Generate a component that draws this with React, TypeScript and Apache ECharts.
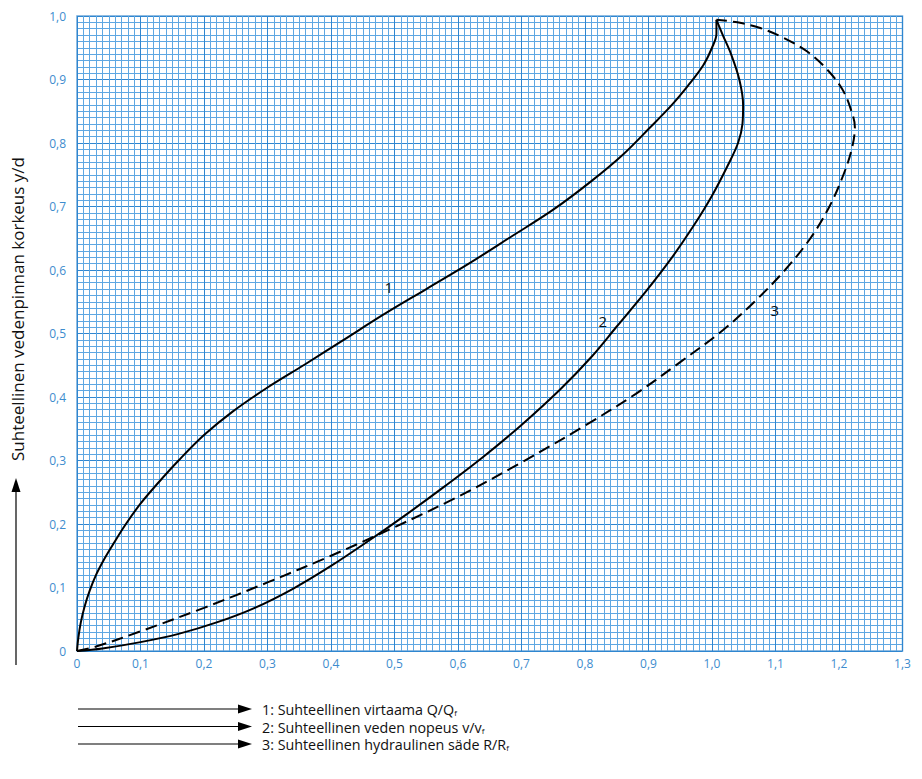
import React, { useEffect, useRef } from "react";
import * as echarts from "echarts";

// Tick labels
const xTicks = ["0", "0,1", "0,2", "0,3", "0,4", "0,5", "0,6", "0,7", "0,8", "0,9", "1,0", "1,1", "1,2", "1,3"];
const yTicks = ["0", "0,1", "0,2", "0,3", "0,4", "0,5", "0,6", "0,7", "0,8", "0,9", "1,0"];

// Curve 1: relative discharge Q/Qf vs y/d
const curveQ: [number, number][] = [
  [0, 0], [0.002, 0.02], [0.006, 0.045], [0.012, 0.07], [0.02, 0.095], [0.03, 0.12],
  [0.043, 0.145], [0.058, 0.17], [0.077, 0.2], [0.1, 0.232], [0.128, 0.265], [0.16, 0.3],
  [0.2, 0.34], [0.245, 0.377], [0.3, 0.415], [0.36, 0.452], [0.42, 0.49], [0.483, 0.53],
  [0.55, 0.57], [0.617, 0.61], [0.683, 0.652], [0.75, 0.695], [0.81, 0.74], [0.86, 0.782],
  [0.902, 0.824], [0.935, 0.858], [0.962, 0.89], [0.986, 0.922], [1.0, 0.95], [1.007, 0.972],
  [1.007, 0.994],
];

// Curve 2: relative velocity v/vf
const curveV: [number, number][] = [
  [0, 0], [0.04, 0.004], [0.1, 0.014], [0.16, 0.027], [0.22, 0.045], [0.28, 0.068],
  [0.34, 0.098], [0.4, 0.134], [0.46, 0.174], [0.52, 0.216], [0.58, 0.26], [0.64, 0.306],
  [0.7, 0.356], [0.76, 0.411], [0.81, 0.463], [0.85, 0.511], [0.895, 0.565], [0.935, 0.617],
  [0.97, 0.668], [1.0, 0.717], [1.025, 0.765], [1.041, 0.8], [1.048, 0.83], [1.049, 0.86],
  [1.043, 0.9], [1.03, 0.94], [1.017, 0.97], [1.007, 0.994],
];

// Curve 3: relative hydraulic radius R/Rf
const curveR: [number, number][] = [
  [0, 0], [0.03, 0.007], [0.1, 0.031], [0.2, 0.068], [0.3, 0.108], [0.4, 0.15],
  [0.5, 0.195], [0.6, 0.243], [0.7, 0.297], [0.8, 0.355], [0.88, 0.405], [0.95, 0.455],
  [1.017, 0.505], [1.07, 0.553], [1.115, 0.6], [1.155, 0.65], [1.185, 0.7], [1.207, 0.75],
  [1.22, 0.79], [1.225, 0.825], [1.218, 0.855], [1.205, 0.885], [1.182, 0.915], [1.15, 0.944],
  [1.112, 0.966], [1.076, 0.981], [1.04, 0.99], [1.007, 0.994],
];

// Curve number labels (data coords)
const curveLabels: { text: string; coord: [number, number] }[] = [
  { text: "1", coord: [0.491, 0.573] },
  { text: "2", coord: [0.828, 0.52] },
  { text: "3", coord: [1.099, 0.537] },
];

const legendTexts = [
  "{n|1: Suhteellinen virtaama Q/Q}{sub|f}",
  "{n|2: Suhteellinen veden nopeus v/v}{sub|f}",
  "{n|3: Suhteellinen hydraulinen säde R/R}{sub|f}",
];

const yTitle = "Suhteellinen vedenpinnan korkeus y/d";

const FONT = "'Open Sans', 'Noto Sans', sans-serif";
const MINOR_COLOR = "#5ea7e2";
const MAJOR_COLOR = "#2f86d0";
const LABEL_COLOR = "#3d8cce";

export default function App() {
  const ref = useRef<HTMLDivElement>(null);

  useEffect(() => {
    if (!ref.current) return;
    const chart = echarts.init(ref.current, undefined, { renderer: "svg" });

    const fmt = (labels: string[]) => (v: number) => {
      const i = Math.round(v * 10);
      return labels[i] ?? "";
    };

    const legendY = [709, 726.5, 744];
    const legendGraphics: any[] = [];
    legendY.forEach((y, i) => {
      legendGraphics.push({
        type: "line",
        shape: { x1: 78, y1: y, x2: 240, y2: y },
        style: { stroke: "#000", lineWidth: 1.2 },
      });
      legendGraphics.push({
        type: "polygon",
        shape: { points: [[238, y - 4.5], [252, y], [238, y + 4.5]] },
        style: { fill: "#000" },
      });
      legendGraphics.push({
        type: "text",
        x: 262,
        y: y,
        style: {
          text: legendTexts[i],
          verticalAlign: "middle",
          align: "left",
          rich: {
            n: { fontSize: 14.3, fontFamily: FONT, fill: "#111", lineHeight: 15, verticalAlign: "bottom" },
            sub: { fontSize: 8, fontFamily: FONT, fill: "#111", lineHeight: 8, verticalAlign: "bottom" },
          },
        },
      });
    });

    const lineSeries = (name: string, data: [number, number][], dashed: boolean) => ({
      name,
      type: "line",
      data,
      smooth: 0.35,
      showSymbol: false,
      symbol: "none",
      lineStyle: { color: "#000", width: 2, type: dashed ? [12, 6] : "solid" },
      silent: true,
    });

    chart.setOption({
      animation: false,
      backgroundColor: "#fff",
      grid: {
        left: 77,
        top: 16,
        width: 825.5,
        height: 635,
        show: true,
        borderColor: "#6ea6d8",
        borderWidth: 1.5,
      },
      xAxis: {
        type: "value",
        min: 0,
        max: 1.3,
        interval: 0.1,
        axisLine: { show: false },
        axisTick: { show: false },
        axisLabel: {
          formatter: fmt(xTicks),
          color: LABEL_COLOR,
          fontSize: 12,
          fontFamily: FONT,
          margin: 6,
        },
        splitLine: { show: true, lineStyle: { color: MAJOR_COLOR, width: 1 } },
        minorTick: { show: false, splitNumber: 10 },
        minorSplitLine: { show: true, lineStyle: { color: MINOR_COLOR, width: 1 } },
      },
      yAxis: {
        type: "value",
        min: 0,
        max: 1.0,
        interval: 0.1,
        axisLine: { show: false },
        axisTick: { show: false },
        axisLabel: {
          formatter: fmt(yTicks),
          color: LABEL_COLOR,
          fontSize: 12,
          fontFamily: FONT,
          margin: 11,
        },
        splitLine: { show: true, lineStyle: { color: MAJOR_COLOR, width: 1 } },
        minorTick: { show: false, splitNumber: 10 },
        minorSplitLine: { show: true, lineStyle: { color: MINOR_COLOR, width: 1 } },
      },
      series: [
        {
          ...lineSeries("Q/Qf", curveQ, false),
          markPoint: {
            symbol: "circle",
            symbolSize: 0,
            silent: true,
            label: {
              show: true,
              color: "#111",
              fontSize: 15,
              fontFamily: FONT,
              formatter: (p: any) => p.name,
            },
            data: curveLabels.map((c) => ({ name: c.text, coord: c.coord })),
          },
        },
        lineSeries("v/vf", curveV, false),
        lineSeries("R/Rf", curveR, true),
      ],
      graphic: [
        {
          type: "line",
          shape: { x1: 16, y1: 665, x2: 16, y2: 490 },
          style: { stroke: "#000", lineWidth: 1.2 },
        },
        {
          type: "polygon",
          shape: { points: [[11.5, 492], [16, 478], [20.5, 492]] },
          style: { fill: "#000" },
        },
        {
          type: "text",
          x: 17,
          y: 309,
          rotation: Math.PI / 2,
          style: {
            text: yTitle,
            fontSize: 17,
            fontFamily: FONT,
            fill: "#111",
            align: "center",
            verticalAlign: "middle",
          },
        },
        ...legendGraphics,
      ],
    });

    return () => chart.dispose();
  }, []);

  return (
    <div
      ref={ref}
      style={{ position: "fixed", left: 0, top: 0, width: 922, height: 779, background: "#fff" }}
    />
  );
}
